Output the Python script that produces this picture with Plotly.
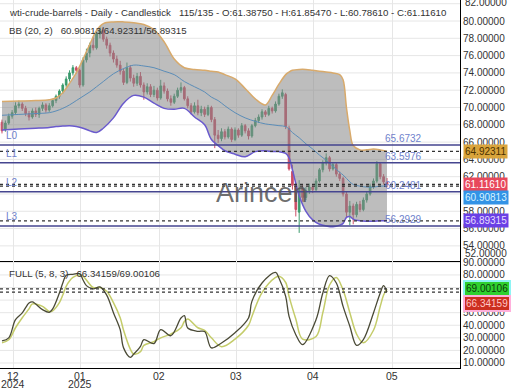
import plotly.graph_objects as go

# ---------------- data ----------------
candle_idx = list(range(115))
opens = [68.3,67.4,68.2,69.0,69.4,70.2,70.4,69.9,69.3,68.9,69.6,69.2,69.9,70.3,69.7,70.2,70.8,71.3,71.9,72.6,
         73.3,74.0,74.6,74.3,72.6,75.5,76.3,77.2,76.9,78.5,78.9,77.9,77.2,76.3,75.6,74.9,74.2,72.9,74.6,73.4,
         72.8,73.6,72.6,71.8,72.4,71.5,72.0,71.1,72.5,71.9,71.0,70.6,71.3,72.0,72.3,71.0,70.2,69.5,70.2,69.4,
         69.8,69.2,70.0,68.6,66.8,66.4,67.2,66.6,67.5,66.3,67.4,66.8,67.9,67.3,66.7,67.9,68.5,68.9,69.5,69.2,
         69.9,69.6,70.4,71.3,71.5,67.6,62.6,61.0,57.9,60.6,59.6,60.4,60.8,60.5,61.5,62.8,63.6,64.2,62.9,63.4,
         62.3,61.8,60.0,57.9,58.6,57.6,58.8,58.2,59.3,60.0,60.9,61.5,63.5,62.0,61.3875]
highs = [68.6,68.5,69.3,69.7,70.6,70.8,70.6,70.2,69.6,69.9,70.0,70.1,70.6,70.5,70.5,71.0,71.5,72.1,72.8,73.6,
         74.3,74.9,74.8,74.5,75.8,76.8,77.5,78.2,78.9,79.4,79.2,78.2,77.5,76.6,76.0,75.4,74.5,75.2,74.9,73.8,
         74.0,74.1,72.9,72.8,72.7,72.5,72.3,73.2,72.9,72.2,71.4,71.6,72.3,72.9,72.5,71.3,70.5,70.6,70.9,70.2,
         70.1,70.3,70.2,68.9,67.4,67.6,67.5,67.8,67.7,67.7,67.6,68.2,68.1,67.6,68.1,68.8,69.2,69.8,69.7,70.2,
         70.1,70.7,71.6,72.1,71.7,67.9,63.4,61.3,61.6,61.0,60.8,61.2,61.0,61.8,63.0,63.9,64.7,64.4,63.7,63.6,
         62.6,62.0,60.3,59.2,58.9,59.1,59.2,59.6,60.3,61.2,61.8,63.8,63.7,62.3,61.8547]
lows = [67.0,67.2,68.0,68.7,69.2,69.9,69.6,69.0,68.5,68.7,68.9,68.8,69.6,69.4,69.5,70.0,70.5,71.0,71.6,72.3,
        73.0,73.7,73.9,72.3,72.4,75.2,75.8,76.6,76.7,78.0,77.6,76.8,75.9,75.2,74.6,73.8,72.6,72.7,73.0,72.4,
        72.5,72.3,70.9,71.5,71.2,71.2,70.8,70.9,71.6,70.7,70.2,70.4,71.1,71.7,70.8,69.9,69.2,69.3,69.1,69.0,
        68.9,69.0,68.3,65.3,65.9,66.1,66.3,66.4,66.0,66.1,66.5,66.6,67.0,66.3,66.5,67.7,68.2,68.6,68.9,69.0,
        69.3,69.4,70.2,71.0,67.5,62.7,60.5,57.4,55.5,59.1,59.3,60.0,60.1,60.3,61.3,62.5,63.3,62.6,62.7,62.0,
        61.5,59.7,57.2,56.4,56.5,57.3,57.9,58.0,59.0,59.8,60.6,61.3,61.7,61.1,60.7861]
closes = [67.3,68.2,69.0,69.4,70.2,70.4,69.9,69.3,68.9,69.6,69.2,69.9,70.3,69.7,70.2,70.8,71.3,71.9,72.6,73.3,
          74.0,74.6,74.3,72.6,75.5,76.3,77.2,76.9,78.5,78.9,77.9,77.2,76.3,75.6,74.9,74.2,72.9,74.6,73.4,72.8,
          73.6,72.6,71.8,72.4,71.5,72.0,71.1,72.5,71.9,71.0,70.6,71.3,72.0,72.3,71.0,70.2,69.5,70.2,69.4,69.8,
          69.2,70.0,68.6,66.8,66.4,67.2,66.6,67.5,66.3,67.4,66.8,67.9,67.3,66.7,67.9,68.5,68.9,69.5,69.2,69.9,
          69.6,70.4,71.3,71.7,67.8,62.9,61.0,58.2,60.6,59.6,60.4,60.8,60.5,61.5,62.8,63.6,64.2,62.9,63.4,62.3,
          61.8,60.0,57.9,58.6,57.6,58.8,58.2,59.3,60.0,60.9,61.5,63.5,62.0,61.4,61.1161]

bb_idx = [0,5,10,14,16,18,20,22,24,26,28,30,33,36,39,42,45,48,51,54,57,60,62,64,66,69,72,75,78,80,
          82,84,85,86,88,90,92,94,96,98,100,101,102,103,104,106,108,110,112,114]
bb_upper = [70.7,70.75,70.8,70.9,71.1,71.7,72.8,74.0,75.6,77.3,78.9,79.7,79.9,79.9,79.8,79.6,79.0,77.6,75.6,74.6,
            74.4,74.3,74.2,74.1,73.8,73.3,72.2,71.0,70.3,71.4,72.7,73.8,74.1,74.3,74.4,74.4,74.3,74.2,74.1,74.0,
            73.8,73.2,70.0,67.3,65.6,65.1,65.1,65.2,65.1,64.92311]
bb_mid = [69.1,69.2,69.3,69.4,69.6,69.9,70.3,70.8,71.3,71.8,72.4,73.0,73.9,74.5,74.9,74.8,74.6,74.2,73.8,73.0,
          72.4,71.8,71.2,70.8,70.2,69.4,68.8,68.4,68.1,68.0,67.9,67.8,67.5,67.1,66.5,65.8,65.2,64.5,63.9,63.2,
          62.5,62.2,61.8,61.4,61.1,60.9,60.8,60.8,60.9,60.90813]
bb_lower = [67.4,67.5,67.6,67.7,67.8,67.85,67.9,67.8,67.6,67.3,67.1,67.6,68.8,70.5,71.4,71.2,70.5,69.9,69.8,69.9,
            68.9,68.0,66.3,65.6,65.0,64.6,64.3,64.9,65.0,64.9,64.9,64.7,64.2,62.8,59.8,58.0,57.0,56.5,56.3,56.2,
            56.4,56.6,57.3,57.4,57.1,56.9,56.85,56.85,56.9,56.89315]

stoch_idx = [0,2,4,6,8,9,12,14,15,17,18,19,21,23,24,25,27,29,31,33,35,36,38,39,41,42,45,47,50,53,
             54,55,58,60,62,65,69,73,74,77,81,82,84,85,87,89,93,95,97,99,101,103,105,107,110,112,113,114]
stoch_k = [27.5,30,44.5,49.8,57.7,58.6,52.4,50.3,53,65.7,73.6,79.7,80.5,81,76,71.5,68.9,70.5,64,50,
           36.5,22,14.5,17,23.2,28.6,25.4,36.5,31.7,45.8,47.6,37.8,35.2,35,22,25.9,34,45.8,59,73.6,
           82,77.6,63,47,32.5,24.6,44.5,65.7,79.5,73.6,55,39.2,24,28.6,49.8,65.7,71.5,66.34159]
stoch_d = [26,28.5,38,46,53,57,55,51,51.5,58,64,71,78,80,79,76,70,70,67,58,
           46,36,21,17,19,24,27,30,33,38,43,45,38,36,30,23,29,40,47,66,
           78,79,74,63,45,29,31,50,72,78,68,50,33,26,36,55,64,69.00106]

level_values = [65.6732, 63.5976, 60.2481, 56.2929]
level_names = ["L0", "L1", "L2", "L3"]
last_bb = {"upper": 64.92311, "mid": 60.90813, "lower": 56.89315}
last_close = 61.11610
last_k, last_d = 66.34159, 69.00106

month_tick_idx = [3.3, 23.1, 46.5, 69.3, 92.1, 115.5]
month_tick_text = ["12", "01", "02", "03", "04", "05"]
year_tick_text = ["2024", "2025", "", "", "", ""]
price_ticks = [52, 54, 56, 58, 62, 64, 66, 68, 70, 72, 74, 76, 78, 80, 82]
stoch_ticks = [10, 20, 30, 40, 50, 80, 90]
price_grid = list(range(52, 84, 2))
stoch_grid = list(range(10, 100, 10))

# ---------------- figure ----------------
FONT = "Liberation Sans, Arial, sans-serif"
TXT = "#333333"
H = 368.0
split = (H - 261) / H

fig = go.Figure()

fig.add_trace(go.Scatter(x=bb_idx, y=bb_upper, mode="lines", line=dict(color="#d8aa6c", width=1.5, shape="spline"),
                         hoverinfo="skip", showlegend=False, xaxis="x", yaxis="y"))
fig.add_trace(go.Scatter(x=bb_idx, y=bb_lower, mode="lines", line=dict(color="#6a5acd", width=1.5, shape="spline"),
                         fill="tonexty", fillcolor="rgba(135,135,135,0.55)",
                         hoverinfo="skip", showlegend=False, xaxis="x", yaxis="y"))
fig.add_trace(go.Candlestick(x=candle_idx, open=opens, high=highs, low=lows, close=closes,
                             increasing=dict(line=dict(color="#3a9a6c", width=1), fillcolor="#3a9a6c"),
                             decreasing=dict(line=dict(color="#cc4d66", width=1), fillcolor="#cc4d66"),
                             whiskerwidth=0, showlegend=False, xaxis="x", yaxis="y"))
fig.add_trace(go.Scatter(x=bb_idx, y=bb_mid, mode="lines", line=dict(color="#5b8db8", width=1, shape="spline"),
                         hoverinfo="skip", showlegend=False, xaxis="x", yaxis="y"))

fig.add_trace(go.Scatter(x=stoch_idx, y=stoch_d, mode="lines", line=dict(color="#c4cc6a", width=1.5, shape="spline"),
                         showlegend=False, xaxis="x2", yaxis="y2"))
fig.add_trace(go.Scatter(x=stoch_idx, y=stoch_k, mode="lines", line=dict(color="#4a4a36", width=1.3, shape="spline"),
                         showlegend=False, xaxis="x2", yaxis="y2"))

shapes = []
for v in price_grid:
    shapes.append(dict(type="line", xref="x domain", x0=0, x1=1, yref="y", y0=v, y1=v, layer="below",
                       line=dict(color="#e6e6e6", width=1)))
for v in stoch_grid:
    shapes.append(dict(type="line", xref="x2 domain", x0=0, x1=1, yref="y2", y0=v, y1=v, layer="below",
                       line=dict(color="#e6e6e6", width=1)))
for v in level_values:
    shapes.append(dict(type="line", xref="x domain", x0=0, x1=1, yref="y", y0=v, y1=v,
                       line=dict(color="#45458f", width=1.5)))
for v in [last_bb["upper"], last_close, last_bb["mid"], last_bb["lower"]]:
    shapes.append(dict(type="line", xref="x domain", x0=0, x1=1, yref="y", y0=v, y1=v,
                       line=dict(color="#333333", width=1.3, dash="dot")))
for v in [last_d, last_k]:
    shapes.append(dict(type="line", xref="x2 domain", x0=0, x1=1, yref="y2", y0=v, y1=v,
                       line=dict(color="#333333", width=1.3, dash="dot")))

ann = []
def header(text, ypx):
    return dict(text=text, xref="paper", yref="paper", x=7/460, y=(H-ypx)/H, xanchor="left", yanchor="middle",
                showarrow=False, font=dict(family=FONT, size=9.7, color=TXT))

ann.append(header("wti-crude-barrels - Daily - Candlestick   115/135 - O:61.38750 - H:61.85470 - L:60.78610 - C:61.11610", 12))
ann.append(header("BB (20, 2)   60.90813/64.92311/56.89315", 30))
ann.append(header("FULL (5, 8, 3)   66.34159/69.00106", 273))
ann.append(dict(text="Arincen", xref="paper", yref="paper", x=262/460, y=(H-193)/H,
                xanchor="center", yanchor="middle", showarrow=False,
                font=dict(family=FONT, size=27, color="rgba(85,85,85,0.85)")))
for name, v in zip(level_names, level_values):
    ann.append(dict(text=name, xref="x domain", x=4/460, yref="y", y=v, yshift=9.5,
                    xanchor="left", yanchor="middle", showarrow=False,
                    font=dict(family=FONT, size=10, color="#6f82cc")))
    ann.append(dict(text=f"{v:.4f}", xref="x domain", x=383/460, yref="y", y=v, yshift=6.5,
                    xanchor="left", yanchor="middle", showarrow=False,
                    font=dict(family=FONT, size=10, color="#6f82cc")))
# two-line month / year tick labels placed on the shared x scale
for xv, mt, yt in zip(month_tick_idx, month_tick_text, year_tick_text):
    ann.append(dict(text=mt, xref="x2", x=xv, yref="paper", y=-(375.5-H)/H,
                    xanchor="center", yanchor="middle", showarrow=False,
                    font=dict(family=FONT, size=10.5, color=TXT)))
    if yt:
        ann.append(dict(text=yt, xref="x2", x=xv, yref="paper", y=-(384.5-H)/H,
                        xanchor="center", yanchor="middle", showarrow=False,
                        font=dict(family=FONT, size=10.5, color=TXT)))

def badge(text, y, yref, bg, fg, yshift=0, border=None):
    d = dict(text=text, xref="paper", x=1, xshift=3, yref=yref, y=y, yshift=yshift,
             xanchor="left", yanchor="middle", showarrow=False, bgcolor=bg, borderpad=1,
             font=dict(family=FONT, size=10, color=fg))
    if border:
        d.update(bordercolor=border, borderwidth=2)
    return d

ann.append(badge(f"{last_bb['upper']:.5f}", last_bb["upper"], "y", "#d9a43c", "#4a3000"))
ann.append(badge(f"{last_close:.5f}", last_close, "y", "#e8485c", "#ffffff"))
ann.append(badge(f"{last_bb['mid']:.5f}", last_bb["mid"], "y", "#3393e6", "#d8f4ff", yshift=-11))
ann.append(badge(f"{last_bb['lower']:.5f}", last_bb["lower"], "y", "#6a40e6", "#e6deff"))
ann.append(badge(f"{last_d:.5f}", last_d, "y2", "#2fd02f", "#0a3a0a", border="#8ef4f4"))
ann.append(badge(f"{last_k:.5f}", last_k, "y2", "#cc2e20", "#ffc8c8", yshift=-11, border="#ffb0dc"))
ann.append(dict(text="52.00000", xref="paper", x=1, xshift=3, yref="paper", y=(H-253.5)/H,
                xanchor="left", yanchor="middle", showarrow=False, font=dict(family=FONT, size=10, color=TXT)))
ann.append(dict(text="82.00000", xref="paper", x=1, xshift=3, yref="paper", y=(H-2)/H,
                xanchor="left", yanchor="middle", showarrow=False, font=dict(family=FONT, size=10, color=TXT)))

axis_common = dict(zeroline=False, automargin=False, showline=True, linecolor="#000000", linewidth=1)

fig.update_layout(
    width=520, height=390,
    margin=dict(l=0, r=60, t=0, b=22, autoexpand=False),
    paper_bgcolor="white", plot_bgcolor="white",
    font=dict(family=FONT, size=10, color=TXT),
    showlegend=False, hovermode=False,
    shapes=shapes, annotations=ann,
    xaxis=dict(axis_common, domain=[0, 1], anchor="y", range=[-0.59, 135.62], showgrid=True, gridcolor="#e6e6e6",
               tickvals=month_tick_idx, ticktext=month_tick_text, showticklabels=False, ticks="",
               rangeslider=dict(visible=False)),
    yaxis=dict(axis_common, domain=[split, 1], anchor="x", side="right", range=[52.25, 82.43], showgrid=False,
               tickvals=price_ticks[:-1], ticktext=[f"{v:.5f}" for v in price_ticks[:-1]], ticks="",
               tickfont=dict(size=10)),
    xaxis2=dict(axis_common, domain=[0, 1], anchor="y2", matches="x", range=[-0.59, 135.62], showgrid=True,
                gridcolor="#e6e6e6", tickvals=month_tick_idx, ticktext=month_tick_text, ticks="",
                showticklabels=False),
    yaxis2=dict(axis_common, domain=[0, split], anchor="x2", side="right", range=[6.0, 91.1], showgrid=False,
                tickvals=stoch_ticks, ticktext=[f"{v:.5f}" for v in stoch_ticks], ticks="",
                tickfont=dict(size=10)),
)

fig.write_html("out.html", config={"displayModeBar": False},
               post_script="document.body.style.margin='0px';document.body.style.padding='0px';")
